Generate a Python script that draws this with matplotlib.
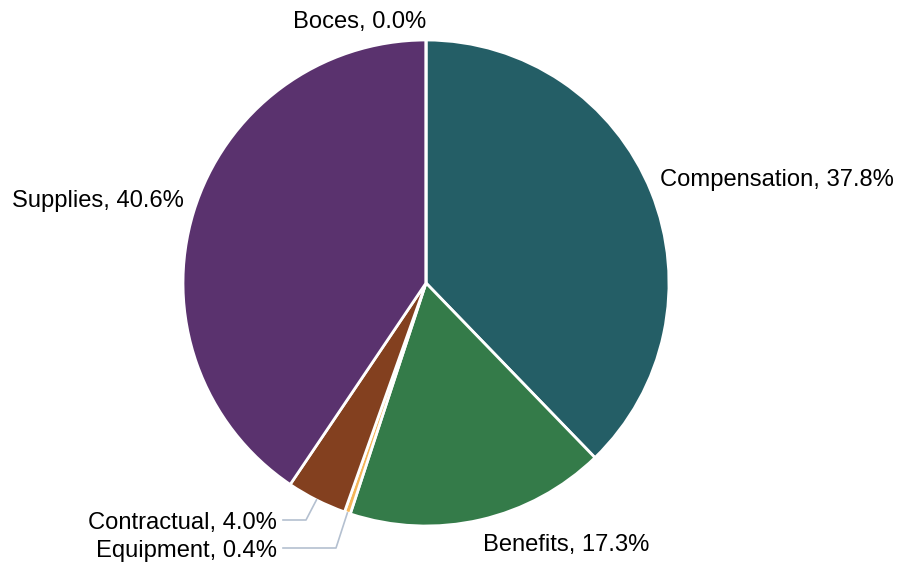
import numpy as np
import matplotlib
matplotlib.use("Agg")
import matplotlib.pyplot as plt

categories = ["Compensation", "Benefits", "Equipment", "Contractual", "Supplies", "Boces"]
values = [37.8, 17.3, 0.4, 4.0, 40.6, 0.0]
colors = ["#245e66", "#347b49", "#f5b558", "#83401f", "#5a326e", "#2f6fa0"]

plt.rcParams['font.family'] = ['Liberation Sans', 'DejaVu Sans']
FS = 17.1

W, H = 900, 565
cx, cy, R = 426, 283, 243
fig = plt.figure(figsize=(W / 100, H / 100), dpi=100)
ax = fig.add_axes([(cx - R) / W, (H - cy - R) / H, 2 * R / W, 2 * R / H])
ax.set_xlim(-1, 1)
ax.set_ylim(-1, 1)
ax.set_aspect('equal')
ax.axis('off')

wedges, _ = ax.pie(values, colors=colors, startangle=90, counterclock=False,
                   radius=1.0, center=(0, 0), frame=False,
                   wedgeprops=dict(edgecolor='white', linewidth=2))
ax.set_xlim(-1, 1)
ax.set_ylim(-1, 1)

total = sum(values)
cum = 0.0
line_col = "#b4c0d0"
for name, v in zip(categories, values):
    mid = 90 - (cum + v / 2) / total * 360
    cum += v
    a = np.deg2rad(mid)
    label = f"{name}, {v:.1f}%"
    if name in ("Contractual", "Equipment"):
        sx, sy = np.cos(a), np.sin(a)
        if name == "Contractual":
            ex, ey = (306 - cx) / R, (cy - 520) / R
        else:
            ex, ey = (336 - cx) / R, (cy - 548) / R
        tx = (283 - cx) / R
        ax.plot([sx, ex, tx], [sy, ey, ey], color=line_col, lw=1.2, clip_on=False)
        ax.text((277 - cx) / R, ey, label, ha='right', va='center_baseline',
                fontsize=FS, color='black')
        continue
    r = 1.04
    x, y = r * np.cos(a), r * np.sin(a)
    ha = 'left' if np.cos(a) > 1e-6 else 'right'
    va = 'bottom' if np.sin(a) > 0 else 'top'
    if va == 'top':
        y -= 0.02
    else:
        y -= 0.01
    ax.text(x, y, label, ha=ha, va=va, fontsize=FS, color='black')

fig.savefig("out.png", dpi=100)
